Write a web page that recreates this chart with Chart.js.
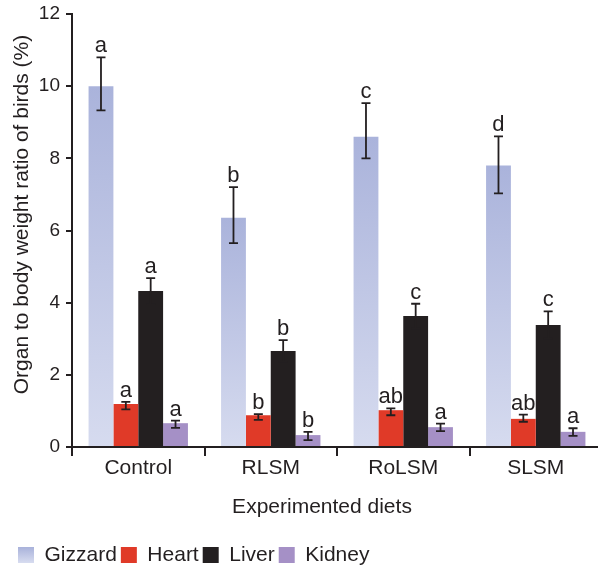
<!DOCTYPE html>
<html>
<head>
<meta charset="utf-8">
<script src="https://cdn.jsdelivr.net/npm/chart.js@4.4.1/dist/chart.umd.min.js"></script>
<style>
  html, body { margin: 0; padding: 0; background: #ffffff; overflow: hidden; }
  #wrap { width: 602px; height: 567px; }
</style>
</head>
<body>
<div id="wrap"><canvas id="chart" width="602" height="567"></canvas></div>
<script>
// Organ to body weight ratio (%) per diet, with error bar ends and significance letters
const diets = ['Control', 'RLSM', 'RoLSM', 'SLSM'];
const organs = ['Gizzard', 'Heart', 'Liver', 'Kidney'];

const gizzard      = [10.0, 6.35, 8.6, 7.8];
const gizzardLow   = [9.33, 5.65, 8.0, 7.03];
const gizzardHigh  = [10.8, 7.2, 9.53, 8.61];
const gizzardSig   = ['a', 'b', 'c', 'd'];

const heart        = [1.19, 0.88, 1.02, 0.78];
const heartLow     = [1.04, 0.75, 0.88, 0.70];
const heartHigh    = [1.25, 0.91, 1.07, 0.90];
const heartSig     = ['a', 'b', 'ab', 'ab'];

const liver        = [4.32, 2.66, 3.63, 3.38];
const liverLow     = [3.96, 2.36, 3.29, 3.00];
const liverHigh    = [4.68, 2.96, 3.97, 3.76];
const liverSig     = ['a', 'b', 'c', 'c'];

const kidney       = [0.66, 0.33, 0.55, 0.42];
const kidneyLow    = [0.53, 0.19, 0.44, 0.31];
const kidneyHigh   = [0.73, 0.42, 0.65, 0.52];
const kidneySig    = ['a', 'b', 'a', 'a'];

const yTicks = [0, 2, 4, 6, 8, 10, 12];

const INK = '#231f20';
const GIZ_TOP = '#aab3db';
const GIZ_BOTTOM = '#d6dbef';
const FONT = "'Liberation Sans', Arial, Helvetica, sans-serif";

// vertical light-blue fade for each gizzard bar, darker at its top
function gizzardFill(ctx) {
  const chart = ctx.chart;
  if (!chart.chartArea || ctx.type !== 'data') return '#c0c7e6';
  const y = chart.scales.y;
  const top = y.getPixelForValue(ctx.raw);
  const bottom = y.getPixelForValue(0);
  const g = chart.ctx.createLinearGradient(0, top, 0, bottom);
  g.addColorStop(0, GIZ_TOP);
  g.addColorStop(1, GIZ_BOTTOM);
  return g;
}

// significance letters sit above each error bar; drawn under the bars
const sigLetters = {
  id: 'sigLetters',
  beforeDatasetsDraw(chart) {
    const { ctx, scales: { y } } = chart;
    ctx.save();
    ctx.fillStyle = INK;
    ctx.font = '22px ' + FONT;
    ctx.textAlign = 'center';
    ctx.textBaseline = 'alphabetic';
    chart.data.datasets.forEach((ds, i) => {
      chart.getDatasetMeta(i).data.forEach((bar, j) => {
        const yTop = y.getPixelForValue(ds.high[j]);
        ctx.fillText(ds.sig[j], bar.x, yTop - 5);
      });
    });
    ctx.restore();
  }
};

// error bars with flat caps
const errorBars = {
  id: 'errorBars',
  afterDatasetsDraw(chart) {
    const { ctx, scales: { y } } = chart;
    ctx.save();
    ctx.strokeStyle = INK;
    ctx.lineWidth = 1.8;
    const cap = 4.5;
    chart.data.datasets.forEach((ds, i) => {
      chart.getDatasetMeta(i).data.forEach((bar, j) => {
        const yHi = y.getPixelForValue(ds.high[j]);
        const yLo = y.getPixelForValue(ds.low[j]);
        ctx.beginPath();
        ctx.moveTo(bar.x, yHi); ctx.lineTo(bar.x, yLo);
        ctx.moveTo(bar.x - cap, yHi); ctx.lineTo(bar.x + cap, yHi);
        ctx.moveTo(bar.x - cap, yLo); ctx.lineTo(bar.x + cap, yLo);
        ctx.stroke();
      });
    });
    ctx.restore();
  }
};

// gradient swatch for the gizzard legend entry, plus both axis titles
const extras = {
  id: 'extras',
  beforeDraw(chart) {
    const lg = chart.legend;
    if (lg && lg.legendHitBoxes && lg.legendHitBoxes[0]) {
      const hb = lg.legendHitBoxes[0];
      const g = chart.ctx.createLinearGradient(0, hb.top + 3, 0, hb.top + hb.height - 3);
      g.addColorStop(0, GIZ_TOP);
      g.addColorStop(1, GIZ_BOTTOM);
      lg.legendItems[0].fillStyle = g;
    }
  },
  afterDraw(chart) {
    const { ctx, scales: { x, y } } = chart;
    ctx.save();
    ctx.fillStyle = INK;
    ctx.textAlign = 'center';
    ctx.textBaseline = 'middle';
    ctx.font = '21px ' + FONT;
    ctx.fillText('Experimented diets', (x.left + x.right) / 2 - 15, x.bottom - 33.5);
    ctx.translate(22, (y.top + y.bottom) / 2 - 16);
    ctx.rotate(-Math.PI / 2);
    ctx.fillText('Organ to body weight ratio of birds (%)', 0, 0);
    ctx.restore();
  }
};

const seriesValues = [gizzard, heart, liver, kidney];
const seriesLow = [gizzardLow, heartLow, liverLow, kidneyLow];
const seriesHigh = [gizzardHigh, heartHigh, liverHigh, kidneyHigh];
const seriesSig = [gizzardSig, heartSig, liverSig, kidneySig];
const seriesColors = [gizzardFill, '#e03a28', INK, '#a590c6'];

new Chart(document.getElementById('chart'), {
  type: 'bar',
  data: {
    labels: diets,
    datasets: organs.map((name, k) => ({
      label: name,
      data: seriesValues[k],
      low: seriesLow[k],
      high: seriesHigh[k],
      sig: seriesSig[k],
      backgroundColor: seriesColors[k],
      borderWidth: 0,
      categoryPercentage: 0.75,
      barPercentage: 1.0
    }))
  },
  options: {
    responsive: false,
    devicePixelRatio: 1,
    animation: false,
    layout: { padding: { left: 14, right: 0, top: 14, bottom: -8.5 } },
    plugins: {
      tooltip: { enabled: false },
      legend: {
        position: 'bottom',
        align: 'start',
        labels: {
          color: INK,
          font: { family: FONT, size: 21 },
          boxWidth: 16,
          boxHeight: 16,
          padding: 4
        }
      }
    },
    scales: {
      x: {
        afterFit(s) { s.height = 93.5; },
        border: { color: INK, width: 2 },
        grid: { offset: true, drawOnChartArea: false, tickLength: 9, color: INK, lineWidth: 2 },
        ticks: { color: INK, font: { family: FONT, size: 21 }, padding: 0 }
      },
      y: {
        min: 0,
        max: 12,
        afterFit(s) { s.width = 58; s.paddingTop = 0; s.paddingBottom = 0; },
        afterBuildTicks(s) { s.ticks = yTicks.map(v => ({ value: v })); },
        border: { color: INK, width: 2 },
        grid: { drawOnChartArea: false, tickLength: 6, color: INK, lineWidth: 2 },
        ticks: { color: INK, font: { family: FONT, size: 19 }, padding: 6 }
      }
    }
  },
  plugins: [sigLetters, errorBars, extras]
});
</script>
</body>
</html>
